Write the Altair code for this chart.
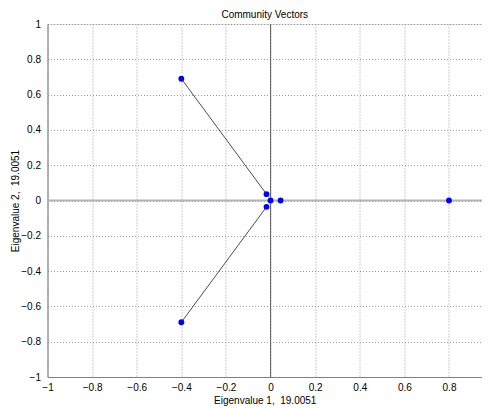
import altair as alt
import pandas as pd

# data
pt_x = [0.8, -0.4, -0.4, -0.018, -0.018, 0.0, 0.045]
pt_y = [0.0, 0.69, -0.69, 0.036, -0.036, 0.0, 0.0]

seg_x = [-0.4, -0.4]
seg_y = [0.69, -0.69]
seg_x2 = [-0.018, -0.018]
seg_y2 = [0.036, -0.036]

tick_vals = [-1, -0.8, -0.6, -0.4, -0.2, 0, 0.2, 0.4, 0.6, 0.8, 1]

pts = pd.DataFrame({"x": pt_x, "y": pt_y})
segs = pd.DataFrame({"x": seg_x, "y": seg_y, "x2": seg_x2, "y2": seg_y2})
zero = pd.DataFrame({"v": [0]})

FONT = "Liberation Sans"

xs = alt.Scale(domain=[-1, 0.948], nice=False, zero=False)
ys = alt.Scale(domain=[-1, 1], nice=False, zero=False)

xaxis = alt.Axis(values=tick_vals[:-1], title="Eigenvalue 1,\u00a0 19.0051",
                 format="~g", labelPadding=5, titlePadding=3)
yaxis = alt.Axis(values=tick_vals, title="Eigenvalue 2,\u00a0 19.0051",
                 format="~g", labelPadding=7,
                 titleX=-32.5, titleY=176.5, titleBaseline="middle")

X = alt.X("x:Q", scale=xs, axis=xaxis)
Y = alt.Y("y:Q", scale=ys, axis=yaxis)

base = alt.Chart(pts).mark_point(opacity=0).encode(x=X, y=Y)

hzero = alt.Chart(zero).mark_rule(color="#b4b4b4", strokeWidth=2).encode(
    y=alt.Y("v:Q", scale=ys, axis=yaxis))
vzero = alt.Chart(zero).mark_rule(color="#606060", strokeWidth=1).encode(
    x=alt.X("v:Q", scale=xs, axis=xaxis))

lines = alt.Chart(segs).mark_rule(color="#202020", strokeWidth=0.8).encode(
    x=alt.X("x:Q", scale=xs, axis=xaxis), y=alt.Y("y:Q", scale=ys, axis=yaxis),
    x2="x2:Q", y2="y2:Q",
)

points = alt.Chart(pts).mark_circle(color="#0000ff", size=34, opacity=1).encode(x=X, y=Y)

chart = alt.layer(base, hzero, vzero, lines, points).properties(
    width=434.5, height=353,
    title=alt.TitleParams("Community Vectors", font=FONT, fontSize=10,
                          fontWeight="normal", color="#000000", offset=-1),
    autosize=alt.AutoSizeParams(type="none"),
    padding={"left": 39.5, "top": 16, "right": 0, "bottom": 30},
).configure_view(strokeOpacity=0).configure(background="white").configure_axis(
    grid=True, gridDash=[1, 2], gridColor="#9a9a9a", gridOpacity=1,
    domainColor="#808080", ticks=False,
    labelFont=FONT, labelFontSize=10, labelColor="#000000",
    titleFont=FONT, titleFontSize=10, titleFontWeight="normal",
    titleColor="#000000", labelFlush=False, labelOverlap=False,
)

chart.save("out.html", embed_options={"renderer": "svg", "actions": False})
